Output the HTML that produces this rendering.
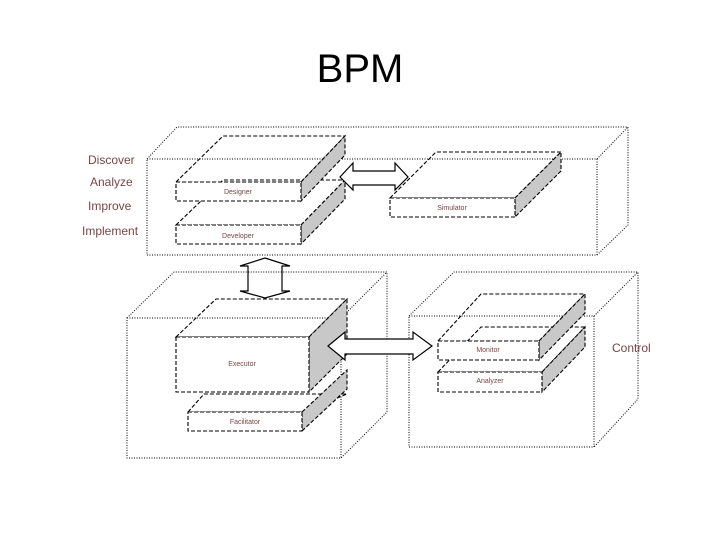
<!DOCTYPE html>
<html><head><meta charset="utf-8"><style>
html,body{margin:0;padding:0;background:#fff;}
svg{display:block;}
.dot{fill:none;stroke:#000;stroke-width:1;stroke-dasharray:1,1.5;}
.dash{fill:#fff;stroke:#000;stroke-width:1.1;stroke-dasharray:4,2;}
.top{fill:none;stroke:#000;stroke-width:1.1;stroke-dasharray:4,2;}
.side{fill:#c8c8c8;stroke:#000;stroke-width:1.1;stroke-dasharray:4,2;}
.lbl{font-family:"Liberation Sans",sans-serif;fill:#7a4545;}
.sm{font-family:"Liberation Sans",sans-serif;fill:#7a4545;font-size:7px;text-anchor:middle;}
.arr{fill:#fff;stroke:#000;stroke-width:1.2;}
</style></head><body>
<svg width="720" height="540" viewBox="0 0 720 540" xmlns="http://www.w3.org/2000/svg">
<text x="360" y="82" font-family="Liberation Sans, sans-serif" font-size="40" text-anchor="middle" fill="#000">BPM</text>

<!-- top big box -->
<rect class="dot" x="147" y="159" width="450" height="96"/>
<polyline class="dot" points="147,159 177,127 628,127 628,225 597,255"/>
<line class="dot" x1="597" y1="159" x2="628" y2="127"/>

<text class="lbl" x="88" y="164" font-size="12">Discover</text>
<text class="lbl" x="90" y="186" font-size="12">Analyze</text>
<text class="lbl" x="88" y="210" font-size="12">Improve</text>
<text class="lbl" x="82" y="235" font-size="12">Implement</text>

<!-- Developer (behind) -->
<polygon class="top" points="176,225 223,180 345,180 301,225"/>
<polygon class="side" points="301,225 345,180 345,199 301,244"/>
<rect class="dash" x="176" y="225" width="125" height="19"/>
<text class="sm" x="238" y="238">Developer</text>
<!-- Designer -->
<polygon class="top" points="176,182 223,136 345,136 301,182"/>
<polygon class="side" points="301,182 345,136 345,155 301,201"/>
<rect class="dash" x="176" y="182" width="125" height="19"/>
<text class="sm" x="238" y="194">Designer</text>
<!-- Simulator -->
<polygon class="top" points="390,198 436,152 561,152 515,198"/>
<polygon class="side" points="515,198 561,152 561,171 515,217"/>
<rect class="dash" x="390" y="198" width="125" height="19"/>
<text class="sm" x="452" y="210">Simulator</text>

<!-- horizontal arrow top -->
<polygon class="arr" points="340,177 353,163 353,171 395,171 395,163 408,177 395,190 395,185 353,185 353,190"/>
<!-- vertical arrow -->
<polygon class="arr" points="265,258 290,266 282,266 282,291 290,291 265,298 240,291 248,291 248,266 240,266"/>

<!-- bottom left box -->
<rect class="dot" x="127" y="318" width="214" height="140"/>
<polyline class="dot" points="127,318 174,272 387,272 387,412 341,458"/>
<line class="dot" x1="341" y1="318" x2="387" y2="272"/>

<!-- Facilitator -->
<polygon class="top" points="188,412 204,394 347,394 302,412"/>
<polygon class="side" points="302,412 347,370 347,389 302,431"/>
<rect class="dash" x="188" y="412" width="114" height="19"/>
<text class="sm" x="245" y="424">Facilitator</text>
<!-- Executor -->
<polygon class="top" points="176,337 216,299 347,299 309,337"/>
<polygon class="side" points="309,337 347,299 347,354 309,392"/>
<rect class="dash" x="176" y="337" width="133" height="55"/>
<text class="sm" x="242" y="366">Executor</text>

<!-- bottom right box -->
<rect class="dot" x="409" y="316" width="185" height="131"/>
<polyline class="dot" points="409,316 454,272 638,272 638,399 594,447"/>
<line class="dot" x1="594" y1="316" x2="638" y2="272"/>

<!-- Analyzer -->
<polygon class="top" points="438,372 481,327 585,327 542,372"/>
<polygon class="side" points="542,372 585,327 585,347 542,392"/>
<rect class="dash" x="438" y="372" width="104" height="20"/>
<text class="sm" x="490" y="383">Analyzer</text>
<!-- Monitor -->
<polygon class="top" points="438,341 481,294 585,294 539,341"/>
<polygon class="side" points="539,341 585,294 585,313 539,360"/>
<rect class="dash" x="438" y="341" width="101" height="19"/>
<text class="sm" x="488" y="352">Monitor</text>

<!-- horizontal arrow bottom -->
<polygon class="arr" points="328,346 345,332 345,339 413,339 413,332 432,346 413,360 413,354 345,354 345,360"/>

<text class="lbl" x="612" y="352" font-size="12">Control</text>
</svg>
</body></html>
